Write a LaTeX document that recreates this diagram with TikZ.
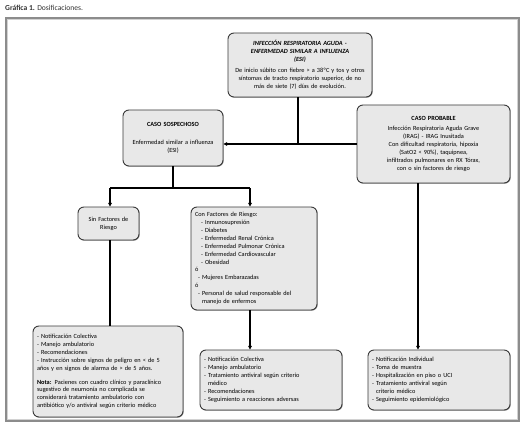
\documentclass[tikz,border=0pt]{standalone}
\usepackage{fontspec}
\setmainfont{Carlito}
\usetikzlibrary{arrows.meta,shadows}
\definecolor{boxfill}{HTML}{E8E8E8}
\definecolor{boxline}{HTML}{3A3A3A}
\definecolor{framegray}{HTML}{8C8C8C}
\definecolor{titlegray}{HTML}{333333}
\tikzset{
  fbox/.style={draw=boxline, fill=boxfill, line width=0.9pt, rounded corners=6pt,
    inner sep=0pt, font=\fontsize{6.3}{7.9}\selectfont,
    drop shadow={shadow xshift=0.7pt, shadow yshift=-0.7pt, opacity=0.45, fill=black}},
  conn/.style={line width=1.6pt, black},
  arr/.style={conn, -{Triangle[length=3.6pt,width=3.6pt]}},
}
\begin{document}
\begin{tikzpicture}[x=1pt,y=-1pt]
\useasboundingbox (0,0) rectangle (526,430);
\fill[white] (0,0) rectangle (526,430);
% title
\node[anchor=west, inner sep=0pt, text=titlegray, font=\fontsize{7.6}{9}\selectfont] (title) at (5,8) {\textbf{Gráfica 1.} Dosificaciones.};
% outer frame
\draw[framegray, line width=1.6pt] (6,18) rectangle (519,421);
\draw[gray!35, line width=0.5pt] (7.6,19.6) rectangle (517.4,419.4);

% boxes
\node[fbox, minimum width=144pt, minimum height=64pt, text width=136pt, align=center] (top) at (300,65)
 {\textbf{\textit{INFECCIÓN RESPIRATORIA AGUDA -\\ENFERMEDAD SIMILAR A INFLUENZA\\(ESI)}}\\[3pt]
  De inicio súbito con fiebre > a 38ºC y tos y otros\\síntomas de tracto respiratorio superior, de no\\más de siete (7) días de evolución.};

\node[fbox, minimum width=100pt, minimum height=56pt, text width=94pt, align=center] (sosp) at (173,138)
 {\textbf{CASO SOSPECHOSO}\\[10pt]Enfermedad similar a influenza\\(ESI)};

\node[fbox, minimum width=153pt, minimum height=78pt, text width=146pt, align=center] (prob) at (433.5,144)
 {\textbf{CASO PROBABLE}\\[2pt]Infección Respiratoria Aguda Grave\\(IRAG) - IRAG Inusitada\\Con dificultad respiratoria, hipoxia\\(SatO2 < 90\%), taquipnea,\\infiltrados pulmonares en RX Tórax,\\con o sin factores de riesgo};

\node[fbox, minimum width=61pt, minimum height=33pt, text width=56pt, align=center] (sin) at (108.5,223.5)
 {Sin Factores de\\Riesgo};

\node[fbox, minimum width=126pt, minimum height=103pt, text width=118pt, align=left] (con) at (254,258.5)
 {Con Factores de Riesgo:\\
  \hspace*{6pt}- Inmunosupresión\\
  \hspace*{6pt}- Diabetes\\
  \hspace*{6pt}- Enfermedad Renal Crónica\\
  \hspace*{6pt}- Enfermedad Pulmonar Crónica\\
  \hspace*{6pt}- Enfermedad Cardiovascular\\
  \hspace*{6pt}- Obesidad\\
  ó\\
  \hspace*{3pt}- Mujeres Embarazadas\\
  ó\\
  \hspace*{3pt}- Personal de salud responsable del\\
  \hspace*{7pt}manejo de enfermos};

\node[fbox, minimum width=150pt, minimum height=91pt, text width=142pt, align=left] (bl) at (108,371.5)
 {- Notificación Colectiva\\
  - Manejo ambulatorio\\
  - Recomendaciones\\
  - Instrucción sobre signos de peligro en < de 5\\
  años y en signos de alarma de > de 5 años.\\[6pt]
  \textbf{Nota:} Pacienes con cuadro clínico y paraclínico\\
  sugestivo de neumonía no complicada se\\
  considerará tratamiento ambulatorio con\\
  antibiótico y/o antiviral según criterio médico};

\node[fbox, minimum width=142pt, minimum height=60pt, text width=134pt, align=left] (bm) at (271,380)
 {- Notificación Colectiva\\
  - Manejo ambulatorio\\
  - Tratamiento antiviral según criterio\\
  \hspace*{4pt}médico\\
  - Recomendaciones\\
  - Seguimiento a reacciones adversas};

\node[fbox, minimum width=142pt, minimum height=60pt, text width=134pt, align=left] (br) at (439,380)
 {- Notificación Individual\\
  - Toma de muestra\\
  - Hospitalización en piso o UCI\\
  - Tratamiento antiviral según\\
  \hspace*{4pt}criterio médico\\
  - Seguimiento epidemiológico};

% connectors
\coordinate (j1) at (298,144);
\coordinate (j2) at (173,188);
\coordinate (j2l) at (110,188);
\coordinate (j2r) at (250,188);
\draw[conn] (top.south -| j1) -- (j1);
\draw[arr] (j1) -- (j1 -| sosp.east);
\draw[conn] (j1) -- (j1 -| prob.west);
\draw[conn] (sosp.south -| j2) -- (j2);
\draw[conn] (j2l) -- (j2r);
\draw[arr] (j2l) -- (j2l |- sin.north);
\draw[arr] (j2r) -- (j2r |- con.north);
\draw[conn] (sin.south -| j2l) -- (j2l |- bl.north);
\draw[arr] (con.south -| j2r) -- (j2r |- bm.north);
\coordinate (j3) at (418,183);
\draw[arr] (prob.south -| j3) -- (j3 |- br.north);
\end{tikzpicture}
\end{document}
